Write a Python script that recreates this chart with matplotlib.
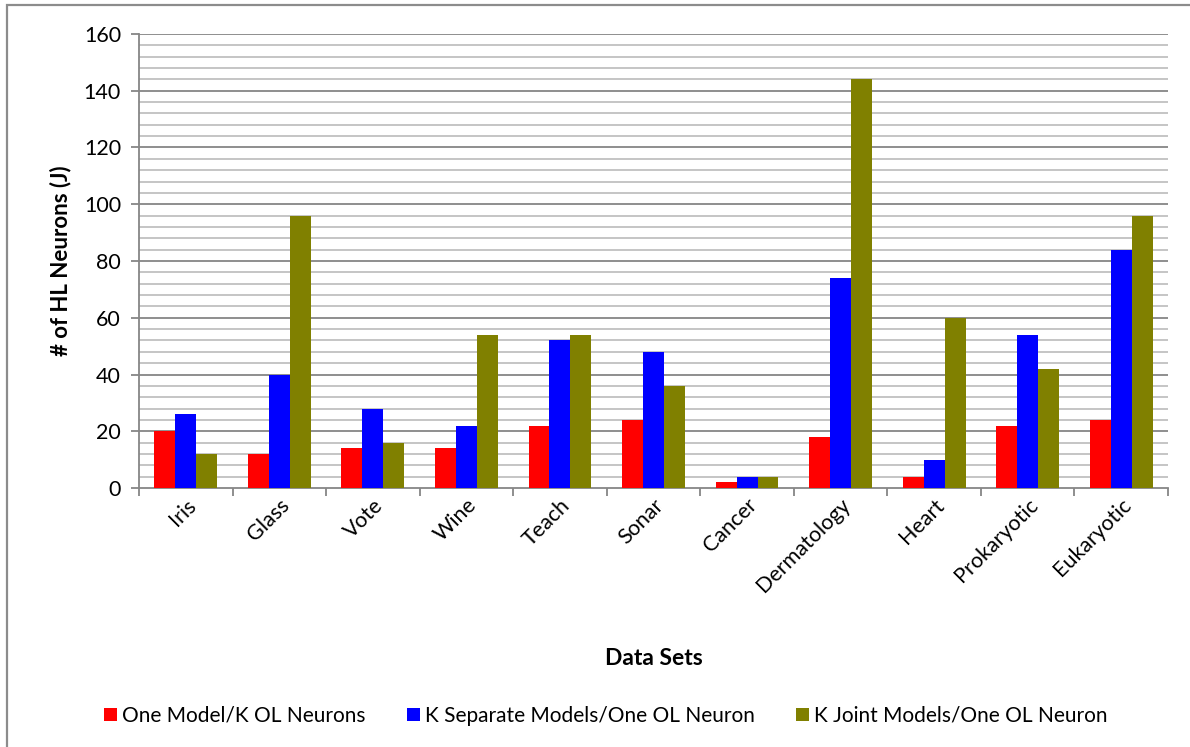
import numpy as np
import matplotlib.pyplot as plt
from matplotlib.patches import Rectangle

plt.rcParams['font.family'] = ['Lato', 'DejaVu Sans']

datasets = ['Iris', 'Glass', 'Vote', 'Wine', 'Teach', 'Sonar', 'Cancer',
            'Dermatology', 'Heart', 'Prokaryotic', 'Eukaryotic']
one_model = [20, 12, 14, 14, 22, 24, 2, 18, 4, 22, 24]
separate_models = [26, 40, 28, 22, 52, 48, 4, 74, 10, 54, 84]
joint_models = [12, 96, 16, 54, 54, 36, 4, 144, 60, 42, 96]

series_names = ['One Model/K OL Neurons', 'K Separate Models/One OL Neuron',
                'K Joint Models/One OL Neuron']
colors = ['#ff0000', '#0000ff', '#808000']

fig = plt.figure(figsize=(11.9, 7.47), dpi=100)
ax = fig.add_axes([0.1168, 0.3467, 0.8647, 0.6078])

# outer chart frame (left and top edges visible)
fig.patches.append(Rectangle((7 / 1190, -0.2), 1.2, 1.2 - 5 / 747,
                             transform=fig.transFigure, fill=False,
                             edgecolor='#8c8c8c', linewidth=1.6))

x = np.arange(len(datasets))
w = 0.224
for k, (vals, name, c) in enumerate(zip([one_model, separate_models, joint_models],
                                        series_names, colors)):
    ax.bar(x + (k - 1) * w, vals, width=w, color=c, label=name, zorder=3)

ax.set_xlim(-0.5, len(datasets) - 0.5)
ax.set_ylim(0, 160)

# gridlines: light every 4, darker every 20
for yv in np.arange(4, 161, 4):
    if yv % 20 == 0:
        ax.axhline(yv, color='#868686', lw=1.3, zorder=1)
    else:
        ax.axhline(yv, color='#c0c0c0', lw=1.3, zorder=1)

ax.set_yticks(np.arange(0, 161, 20))
ax.tick_params(axis='y', length=6, width=1.3, color='#868686', labelsize=15.5, pad=7)
ax.set_xticks(x)
ax.set_xticklabels(datasets, rotation=45, ha='right', rotation_mode='anchor', fontsize=15.5)
ax.tick_params(axis='x', length=0, pad=5)
ax.set_xticks(np.arange(-0.5, len(datasets), 1), minor=True)
ax.tick_params(axis='x', which='minor', length=6, width=1.3, color='#868686')

for s in ['top', 'right']:
    ax.spines[s].set_visible(False)
for s in ['left', 'bottom']:
    ax.spines[s].set_color('#868686')
    ax.spines[s].set_linewidth(1.3)

ax.set_ylabel('# of HL Neurons (J)', fontsize=16, fontweight='bold', labelpad=14)
ax.yaxis.set_label_coords(-0.066, 0.5)
ax.set_xlabel('Data Sets', fontsize=16.5, fontweight='bold')
ax.xaxis.set_label_coords(0.5, -0.353)

fig.legend(loc='center', bbox_to_anchor=(606 / 1190, 1 - 716 / 747), ncol=3,
           frameon=False, fontsize=15, handlelength=0.6, handleheight=0.6,
           handletextpad=0.25, columnspacing=2.0)

fig.savefig('out.png', dpi=100)
